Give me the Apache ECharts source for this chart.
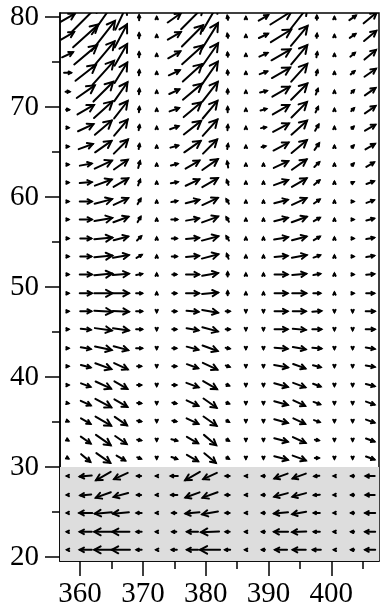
<!DOCTYPE html>
<html>
<head>
<meta charset="utf-8">
<script src="https://cdn.jsdelivr.net/npm/echarts@6/dist/echarts.min.js"></script>
<style>
html, body { margin: 0; padding: 0; background: #fff; }
#chart { width: 381px; height: 610px; }
</style>
</head>
<body>
<div id="chart"></div>
<script>
// grid positions of the vectors
var X_COLS = [358.0, 360.9, 363.7, 366.5, 369.4, 372.2, 375.0, 377.9, 380.7,
              383.5, 386.4, 389.2, 392.0, 394.9, 397.7, 400.5, 403.4, 406.2];
var Y_ROWS = [20.8, 22.8, 24.9, 26.9, 29.0, 31.0, 33.0, 35.1, 37.1, 39.1,
              41.2, 43.2, 45.3, 47.3, 49.3, 51.4, 53.4, 55.4, 57.5, 59.5,
              61.6, 63.6, 65.6, 67.7, 69.7, 71.7, 73.8, 75.8, 77.9, 79.9];

// vector magnitude per row (bottom row first), one value per column
var SPEED = [
  [1,12,18,18,5,1, 5,11,20,5,1.5,3, 12,13,8,1,3,10],
  [1.5,12,18,17,5,1.5, 4,11,18,4,1.5,3, 14,14,6,1.5,3,10],
  [1.5,13,17,16,5,1.5, 4,14,16,4,1.5,3, 14,14,6,1.5,3,10],
  [1.5,11,16,15,4,1.5, 6,15,16,4,1.5,3, 14,14,6,1.5,3,9],
  [1.5,12,17,15,4,1.5, 7,17,15,4,1.5,3, 14,14,5,1.5,3,9],
  [2,12,17,10,4,1.5, 6,13,15,3,1.5,1.5, 14,14,4,1.5,1.5,9],
  [2,12,18,14,4,1.5, 6,13,16,3,1.5,1.5, 14,14,4,1.5,1.5,9],
  [2,11,18,15,4,1.5, 4,13,16,3,1.5,1.5, 14,13,6,1.5,1.5,9],
  [2,11,18,15,4,1.5, 4,13,16,3,1.5,1.5, 14,13,7,1.5,1.5,9],
  [2,10,17,15,4,1.5, 4,13,16,3,1.5,1.5, 14,13,8,1.5,1.5,9],
  [2,10,17,15,4,1.5, 4,12,16,4,1.5,1.5, 14,13,8,1.5,1.5,9],
  [2,10,17,15,6,1.5, 4,12,16,4,1.5,1.5, 13,13,9,1.5,1.5,9],
  [2,10,17,16,6,1.5, 4,12,16,4,1.5,1.5, 13,13,9,1.5,1.5,9],
  [2,11,18,16,6,1.5, 4,12,16,4,1.5,1.5, 13,13,9,1.5,1.5,9],
  [2,12,18,16,6,1.5, 4,13,16,4,1.5,1.5, 13,14,7,1.5,2,8],
  [2,12,18,16,6,1.5, 4,13,16,4,1.5,1.5, 13,14,7,1.5,2,8],
  [2,11,18,16,6,1.5, 5,13,17,5,1.5,1.5, 13,15,7,1.5,2,8],
  [2,11,18,15,6,1.5, 5,13,17,5,1.5,1.5, 14,15,7,1.5,2,8],
  [2,12,18,16,6,1.5, 6,13,17,5,1.5,1.5, 14,16,7,1.5,2,8],
  [2,12,18,16,6,1.5, 6,14,17,5,1.5,1.5, 14,16,7,1.5,2,8],
  [2,12,18,17,6,1.5, 7,15,18,5,1.5,1.5, 15,17,7,1.5,2.5,8],
  [2,12,19,17,7,1.5, 7,16,19,6,1.5,1.5, 16,18,7,1.5,3,9],
  [2,15,20,20,5,1.5, 8,20,20,5,1.5,4, 17,20,8,1.5,3,11],
  [2,17,22,21,5,1.5, 9,22,22,5,1.5,5, 18,21,7,1.5,3,12],
  [3,19,25,22,5,1.5, 10,23,23,5,1.5,6, 19,22,6,1.5,4,13],
  [4,22,28,23,5,1.5, 11,25,25,4,1.5,7, 20,23,6,1.5,4,13],
  [7,26,32,24,5,1.5, 12,26,27,4,1.5,8, 21,24,5,1.5,5,14],
  [12,30,35,25,5,1.5, 14,28,28,4,1.5,9, 22,25,5,1.5,6,15],
  [15,34,38,26,5,1.5, 15,30,30,4,1.5,10, 24,26,4,1.5,7,16],
  [17,38,40,26,5,1.5, 16,32,30,4,1.5,11, 25,27,4,1.5,8,17]
];

// vector direction in degrees (0 = east, 90 = north), same layout as SPEED
var DIR = [
  [180,180,180,180,180,180, 180,180,180,180,180,180, 180,180,180,180,180,180],
  [180,180,180,180,180,180, 180,180,182,180,180,180, 180,182,180,180,180,180],
  [180,180,185,185,180,180, 180,185,190,180,180,180, 185,190,180,180,180,180],
  [180,185,200,195,180,180, 180,200,200,180,180,180, 195,195,185,180,180,180],
  [180,185,210,205,180,180, 180,210,205,180,180,180, 200,200,185,180,180,180],
  [-30,-40,-35,-30,-20,-90, -20,-30,-40,-30,-90,-90, -15,-20,0,-90,-90,-20],
  [-30,-35,-35,-35,-10,-90, -15,-30,-40,-30,-90,-90, -15,-25,-10,-90,-90,-20],
  [-20,-30,-30,-35,-10,-90, -10,-25,-35,-30,-90,-90, -15,-25,-20,-90,-90,-20],
  [-10,-25,-28,-30,-5,-90, -10,-25,-35,-20,-90,-90, -15,-25,-20,-90,-90,-20],
  [0,-20,-25,-30,0,-90, 0,-20,-30,-20,-90,-90, -15,-20,-20,-90,-90,-15],
  [0,-15,-20,-25,0,-90, 0,-20,-25,-20,-90,-90, -10,-20,-15,-90,-90,-10],
  [0,-10,-12,-15,0,-90, 0,-15,-20,-10,-90,-90, -5,-10,-5,-90,-90,-10],
  [0,-5,-8,-8,0,-90, 0,-10,-15,0,-90,-90, 0,-5,0,-90,-90,0],
  [0,0,-3,-3,0,-90, 0,-5,-10,0,-90,-90, 0,0,5,-90,-90,0],
  [0,0,0,0,0,90, 0,0,5,90,90,90, 0,0,0,90,0,0],
  [0,0,5,5,10,90, 0,0,10,90,90,90, 0,5,10,90,0,5],
  [0,0,5,10,30,90, 0,5,15,110,90,90, 5,10,20,90,0,10],
  [0,0,5,15,45,90, 0,5,15,120,90,90, 10,15,30,90,0,10],
  [0,0,10,20,60,90, 0,10,20,120,90,90, 15,20,30,90,0,15],
  [0,0,15,25,60,90, 10,15,25,120,90,90, 15,25,35,90,0,20],
  [0,5,20,30,70,90, 10,25,30,110,90,90, 20,30,40,90,30,20],
  [0,10,25,35,75,90, 15,30,35,100,90,90, 25,35,45,90,45,30],
  [0,20,35,45,80,90, 15,35,45,80,90,10, 28,40,55,90,45,30],
  [0,25,40,50,80,90, 20,38,48,85,90,10, 28,42,60,90,45,30],
  [0,30,42,52,85,90, 20,40,50,90,90,15, 30,45,65,90,45,35],
  [0,35,45,55,85,90, 25,40,52,90,90,15, 30,45,70,90,45,35],
  [0,38,48,58,85,90, 25,42,55,95,90,20, 30,48,75,90,40,35],
  [25,40,50,60,90,90, 30,42,55,95,90,25, 30,50,80,90,40,40],
  [30,42,52,62,90,90, 30,45,58,100,90,25, 32,50,85,90,35,40],
  [30,45,55,65,90,90, 35,45,60,100,90,30, 32,52,90,90,35,40]
];

var X_TICKS = [360, 370, 380, 390, 400];
var X_MINOR = [365, 375, 385, 395, 405];
var Y_TICKS = [20, 30, 40, 50, 60, 70, 80];
var Y_MINOR = [25, 35, 45, 55, 65, 75];
var SHADE = [19.56, 30];   // shaded band (y range)

var X_MIN = 356.8, X_MAX = 407.6;
var Y_MIN = 19.56, Y_MAX = 80.44;
var PX_PER_UNIT = 1;
var FONT = 'Liberation Serif';

var dom = document.getElementById('chart');
var chart = echarts.init(dom, null, { renderer: 'canvas' });

var arrows = [];
for (var j = 0; j < Y_ROWS.length; j++) {
    for (var i = 0; i < X_COLS.length; i++) {
        arrows.push([X_COLS[i], Y_ROWS[j], SPEED[j][i], DIR[j][i]]);
    }
}

function renderArrow(params, api) {
    var p = api.coord([api.value(0), api.value(1)]);
    var len = api.value(2) * PX_PER_UNIT;
    var a = api.value(3) * Math.PI / 180;
    var dx = Math.cos(a) * len, dy = -Math.sin(a) * len;
    var x0 = p[0] - dx / 2, y0 = p[1] - dy / 2;
    var x1 = p[0] + dx / 2, y1 = p[1] + dy / 2;
    var h = Math.min(9, Math.max(2.5, len * 0.4));
    var ang = Math.atan2(y1 - y0, x1 - x0);
    var sp = 0.5;
    var l = [x1 - h * Math.cos(ang - sp), y1 - h * Math.sin(ang - sp)];
    var r = [x1 - h * Math.cos(ang + sp), y1 - h * Math.sin(ang + sp)];
    return {
        type: 'group',
        children: [
            { type: 'line', shape: { x1: x0, y1: y0, x2: x1, y2: y1 },
              style: { stroke: '#000', lineWidth: 2, lineCap: 'round' } },
            { type: 'polyline', shape: { points: [l, [x1, y1], r] },
              style: { stroke: '#000', fill: null, lineWidth: 2, lineCap: 'round' } }
        ]
    };
}

function renderShade(params, api) {
    var a = api.coord([api.value(0), api.value(1)]);
    var b = api.coord([api.value(2), api.value(3)]);
    return {
        type: 'rect',
        shape: { x: a[0], y: b[1], width: b[0] - a[0], height: a[1] - b[1] },
        style: { fill: '#dddddd' }
    };
}

var labelStyle = { color: '#000', fontFamily: FONT, fontSize: 29 };

var option = {
    animation: false,
    grid: {
        left: 60, top: 13, width: 319, height: 548,
        show: true, borderColor: '#000', borderWidth: 1.5, backgroundColor: 'transparent'
    },
    xAxis: [
        {
            type: 'value', min: X_MIN, max: X_MAX, position: 'bottom',
            axisLine: { show: true, lineStyle: { color: '#000', width: 1.5 } },
            axisTick: { show: true, customValues: X_TICKS, length: 15, lineStyle: { color: '#000', width: 1.5 } },
            axisLabel: Object.assign({ customValues: X_TICKS, margin: 19 }, labelStyle),
            splitLine: { show: false }
        },
        {
            type: 'value', min: X_MIN, max: X_MAX, position: 'bottom',
            axisLine: { show: false },
            axisTick: { show: true, customValues: X_MINOR, length: 8, lineStyle: { color: '#000', width: 1.5 } },
            axisLabel: { show: false },
            splitLine: { show: false }
        }
    ],
    yAxis: [
        {
            type: 'value', min: Y_MIN, max: Y_MAX, position: 'left',
            axisLine: { show: true, lineStyle: { color: '#000', width: 1.5 } },
            axisTick: { show: true, customValues: Y_TICKS, length: 15, lineStyle: { color: '#000', width: 1.5 } },
            axisLabel: Object.assign({ customValues: Y_TICKS, margin: 21 }, labelStyle),
            splitLine: { show: false }
        },
        {
            type: 'value', min: Y_MIN, max: Y_MAX, position: 'left',
            axisLine: { show: false },
            axisTick: { show: true, customValues: Y_MINOR, length: 8, lineStyle: { color: '#000', width: 1.5 } },
            axisLabel: { show: false },
            splitLine: { show: false }
        }
    ],
    series: [
        {
            type: 'custom', name: 'shade', z: 1, silent: true,
            renderItem: renderShade,
            data: [[X_MIN, SHADE[0], X_MAX, SHADE[1]]]
        },
        {
            type: 'custom', name: 'vectors', z: 2, silent: true, clip: true,
            renderItem: renderArrow,
            encode: { x: 0, y: 1 },
            data: arrows
        }
    ]
};

chart.setOption(option);
window.addEventListener('resize', chart.resize);
</script>
</body>
</html>
